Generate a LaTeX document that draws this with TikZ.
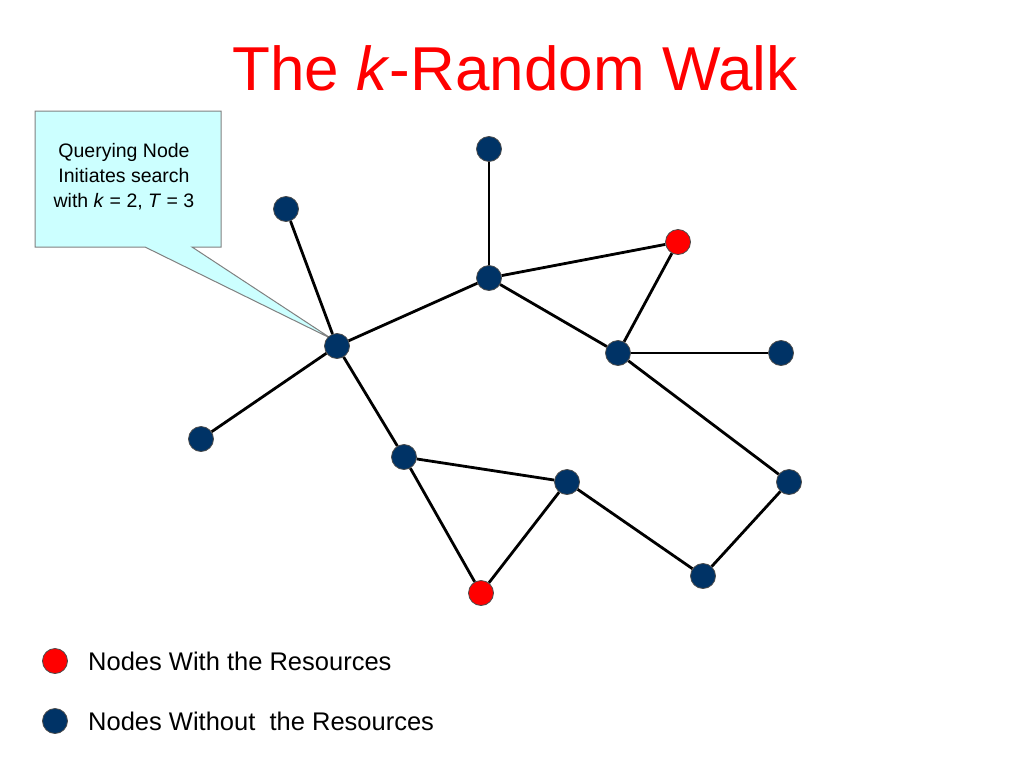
\documentclass[tikz,border=0pt]{standalone}
\usepackage{fontspec}
\setmainfont{Liberation Sans}
\definecolor{navy}{HTML}{003366}
\definecolor{callfill}{HTML}{CCFFFF}
\begin{document}
\begin{tikzpicture}[x=1pt,y=-1pt]
        \useasboundingbox (0,0) rectangle (1024,768);
        \node (title) at (515,68) {\color{red}\fontsize{62}{70}\selectfont The \textit{k}-Random Walk};
        % callout
        \filldraw[fill=callfill,draw=gray,line width=1pt] (35,111) -- (221,111) -- (221,247) -- (192,247) -- (332,339) -- (145,247) -- (35,247) -- cycle;
        \node[align=center,font=\fontsize{19.5}{25}\selectfont] (call) at (124,177) {Querying Node\\Initiates search\\with \textit{k} = 2, \textit{T} = 3};
        \begin{scope}[every node/.style={circle,draw=black!70,line width=0.8pt,fill=navy,minimum size=25pt,inner sep=0pt}]
            \node (Q) at (337,346) {};
            \node (TL) at (286,209) {};
            \node (L) at (201,439) {};
            \node (H) at (489,278) {};
            \node (T) at (489,149) {};
            \node[fill=red] (R1) at (678,242) {};
            \node (M) at (618,353) {};
            \node (RL) at (781,353) {};
            \node (FR) at (789,482) {};
            \node (BR) at (703,576) {};
            \node (BM) at (567,482) {};
            \node (LM) at (404,457) {};
            \node[fill=red] (R2) at (481,593) {};
            \node[fill=red] (legR) at (55,661) {};
            \node (legB) at (55,721) {};
        \end{scope}
        \begin{scope}[line width=2.8pt]
            \draw (Q) -- (TL);
            \draw (Q) -- (L);
            \draw (Q) -- (H);
            \draw (Q) -- (LM);
            \draw (H) -- (T);
            \draw (H) -- (R1);
            \draw (H) -- (M);
            \draw (R1) -- (M);
            \draw (M) -- (RL);
            \draw (M) -- (FR);
            \draw (FR) -- (BR);
            \draw (BR) -- (BM);
            \draw (BM) -- (LM);
            \draw (BM) -- (R2);
            \draw (LM) -- (R2);
        \end{scope}
        \node[anchor=west,inner sep=0pt,font=\fontsize{25.5}{28}\selectfont] (textR) at (88,661) {Nodes With the Resources};
        \node[anchor=west,inner sep=0pt,font=\fontsize{25.5}{28}\selectfont] (textB) at (88,721) {Nodes Without\ \ the Resources};
    \end{tikzpicture}
\end{document}
